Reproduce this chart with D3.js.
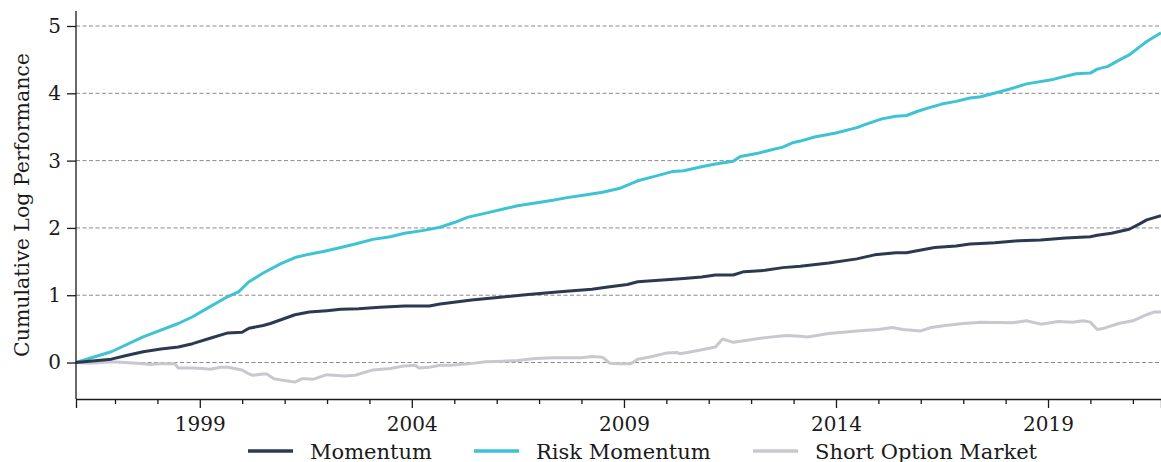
<!DOCTYPE html>
<html>
<head>
<meta charset="utf-8">
<script src="https://cdn.jsdelivr.net/npm/d3@7"></script>
<style>
  html, body { margin: 0; padding: 0; background: #fff; }
  svg text { font-family: "DejaVu Serif", serif; fill: #1a1a1a; }
</style>
</head>
<body>
<svg id="chart" width="1161" height="462"></svg>
<script>
// ---- data ----
const seriesNames = ["Momentum", "Risk Momentum", "Short Option Market"];
const seriesColors = ["#2b3a50", "#3ec3d3", "#c9c8d0"];

const momentumDates = ["1996-01","1996-11","1997-03","1997-08","1998-01","1998-06","1998-10","1999-03","1999-08","1999-12","2000-02","2000-06","2000-08","2001-03","2001-07","2001-12","2002-04","2002-09","2003-03","2003-10","2004-05","2004-08","2005-05","2006-01","2006-09","2007-06","2008-03","2008-07","2009-01","2009-04","2009-12","2010-05","2010-10","2011-02","2011-07","2011-10","2012-04","2012-09","2013-02","2013-10","2014-06","2014-11","2015-05","2015-08","2015-11","2016-04","2016-10","2017-02","2017-05","2017-09","2018-04","2018-10","2019-05","2019-12","2020-02","2020-06","2020-11","2021-02","2021-04","2021-08"];
const momentumValues = [0,0.05,0.10,0.16,0.20,0.23,0.28,0.36,0.44,0.45,0.51,0.55,0.58,0.71,0.75,0.77,0.79,0.80,0.82,0.84,0.84,0.87,0.93,0.97,1.01,1.05,1.09,1.12,1.16,1.20,1.23,1.25,1.27,1.30,1.30,1.35,1.37,1.41,1.43,1.48,1.54,1.60,1.63,1.63,1.66,1.71,1.73,1.76,1.77,1.78,1.81,1.82,1.85,1.87,1.89,1.92,1.98,2.06,2.12,2.18];

const riskMomDates = ["1996-01","1996-11","1997-08","1998-06","1998-10","1999-03","1999-08","1999-11","2000-02","2000-06","2000-11","2001-03","2001-07","2001-11","2002-04","2002-08","2003-01","2003-06","2003-10","2004-03","2004-08","2004-12","2005-04","2005-09","2006-02","2006-06","2006-11","2007-04","2007-08","2008-01","2008-06","2008-11","2009-04","2009-09","2010-02","2010-05","2010-10","2011-02","2011-07","2011-09","2012-02","2012-05","2012-09","2012-12","2013-02","2013-06","2013-12","2014-06","2014-08","2015-01","2015-05","2015-08","2015-11","2016-02","2016-06","2016-10","2017-02","2017-05","2017-08","2018-01","2018-06","2019-01","2019-04","2019-08","2019-12","2020-02","2020-05","2020-08","2020-11","2021-02","2021-04","2021-08"];
const riskMomValues = [0,0.16,0.38,0.58,0.68,0.83,0.98,1.05,1.20,1.33,1.47,1.56,1.61,1.65,1.71,1.76,1.83,1.87,1.92,1.96,2.01,2.08,2.16,2.22,2.28,2.33,2.37,2.41,2.45,2.49,2.53,2.59,2.70,2.77,2.84,2.85,2.91,2.95,2.99,3.06,3.11,3.15,3.20,3.27,3.29,3.35,3.41,3.49,3.53,3.62,3.66,3.67,3.73,3.78,3.84,3.88,3.93,3.95,3.99,4.06,4.14,4.20,4.24,4.29,4.30,4.36,4.40,4.49,4.57,4.69,4.77,4.90];

const shortOptDates = ["1996-01","1996-05","1996-11","1997-03","1997-08","1997-10","1998-01","1998-05","1998-06","1998-10","1999-01","1999-03","1999-06","1999-08","1999-12","2000-02","2000-03","2000-06","2000-07","2000-09","2000-11","2001-03","2001-05","2001-06","2001-08","2001-12","2002-05","2002-08","2003-01","2003-06","2003-10","2004-01","2004-02","2004-05","2004-08","2004-11","2005-04","2005-09","2006-02","2006-06","2006-11","2007-04","2007-08","2007-12","2008-03","2008-06","2008-08","2008-11","2009-02","2009-04","2009-08","2009-12","2010-03","2010-04","2010-09","2011-02","2011-04","2011-07","2011-11","2012-04","2012-10","2013-02","2013-04","2013-10","2014-06","2014-12","2015-04","2015-07","2015-12","2016-03","2016-07","2016-12","2017-05","2018-02","2018-06","2018-10","2019-03","2019-07","2019-10","2019-12","2020-02","2020-04","2020-08","2020-12","2021-04","2021-06","2021-08"];
const shortOptValues = [0,-0.01,0.01,0.00,-0.02,-0.03,-0.02,-0.02,-0.08,-0.08,-0.09,-0.10,-0.07,-0.07,-0.11,-0.17,-0.19,-0.17,-0.17,-0.24,-0.26,-0.29,-0.24,-0.24,-0.25,-0.18,-0.20,-0.19,-0.11,-0.09,-0.05,-0.04,-0.08,-0.07,-0.04,-0.04,-0.02,0.01,0.02,0.03,0.06,0.07,0.07,0.07,0.09,0.08,-0.01,-0.02,-0.02,0.05,0.09,0.14,0.15,0.13,0.18,0.23,0.35,0.30,0.33,0.37,0.40,0.39,0.38,0.43,0.47,0.49,0.52,0.49,0.47,0.52,0.55,0.58,0.60,0.59,0.62,0.57,0.61,0.60,0.62,0.60,0.49,0.51,0.58,0.62,0.71,0.75,0.75];

const yTickValues = [0, 1, 2, 3, 4, 5];
const xMajorYears = [1999, 2004, 2009, 2014, 2019];
const xMinorYears = [1997,1998,2000,2001,2002,2003,2005,2006,2007,2008,2010,2011,2012,2013,2015,2016,2017,2018,2020,2021];
const yLabel = "Cumulative Log Performance";

// ---- helpers ----
const monthEnd = s => { const [y, m] = s.split("-").map(Number); return new Date(y, m, 0); };
const build = (dates, vals) => dates.map((d, i) => ({ date: monthEnd(d), value: vals[i] }));
const series = [
  build(momentumDates, momentumValues),
  build(riskMomDates, riskMomValues),
  build(shortOptDates, shortOptValues)
];

// ---- layout ----
const L = 76, R = 1161, T = 11, B = 399;
const svg = d3.select("#chart");

const x = d3.scaleTime()
  .domain([new Date(1996, 0, 31), new Date(2021, 7, 31)])
  .range([L, R]);
const y = d3.scaleLinear().domain([-0.542, 5.223]).range([B, T]);

// grid
svg.append("g").selectAll("line").data(yTickValues).join("line")
  .attr("x1", L).attr("x2", R)
  .attr("y1", d => y(d)).attr("y2", d => y(d))
  .attr("stroke", "#8a8a8a").attr("stroke-width", 1)
  .attr("stroke-dasharray", "4,2.5");

// lines
const line = d3.line().x(d => x(d.date)).y(d => y(d.value));
const order = [2, 1, 0];
svg.append("g").selectAll("path").data(order).join("path")
  .attr("d", i => line(series[i]))
  .attr("fill", "none")
  .attr("stroke", i => seriesColors[i])
  .attr("stroke-width", 3)
  .attr("stroke-linejoin", "round")
  .attr("stroke-linecap", "butt");

// axes
const tickFont = 20;
const yAxis = svg.append("g").attr("transform", `translate(${L},0)`)
  .call(d3.axisLeft(y).tickValues(yTickValues).tickFormat(d3.format("d")).tickSize(9).tickPadding(6));
yAxis.select(".domain").attr("d", `M0,${B}V${T}`);

const xMajor = svg.append("g").attr("transform", `translate(0,${B})`)
  .call(d3.axisBottom(x).tickValues(xMajorYears.map(yr => new Date(yr, 0, 1)))
    .tickFormat(d3.timeFormat("%Y")).tickSize(9).tickPadding(9));
const xMinor = svg.append("g").attr("transform", `translate(0,${B})`)
  .call(d3.axisBottom(x).tickValues(xMinorYears.map(yr => new Date(yr, 0, 1)))
    .tickFormat("").tickSize(5));
xMinor.select(".domain").remove();

svg.selectAll(".domain").attr("stroke", "#1a1a1a").attr("stroke-width", 1.3);
svg.selectAll(".tick line").attr("stroke", "#1a1a1a").attr("stroke-width", 1.3);
svg.selectAll(".tick text").attr("font-family", "DejaVu Serif").attr("font-size", tickFont).attr("fill", "#1a1a1a");

svg.append("text")
  .attr("transform", `translate(29,205) rotate(-90)`)
  .attr("text-anchor", "middle")
  .attr("font-size", 20.5)
  .text(yLabel);

// legend
const legendItems = [
  { i: 0, x0: 248 },
  { i: 1, x0: 474 },
  { i: 2, x0: 753 }
];
const lg = svg.append("g");
const li = lg.selectAll("g").data(legendItems).join("g")
  .attr("transform", d => `translate(${d.x0},451)`);
li.append("line").attr("x1", 0).attr("x2", 45).attr("y1", 0).attr("y2", 0)
  .attr("stroke", d => seriesColors[d.i]).attr("stroke-width", 3.5);
li.append("text").attr("x", 62).attr("y", 7.5).attr("font-size", 21)
  .text(d => seriesNames[d.i]);
</script>
</body>
</html>
